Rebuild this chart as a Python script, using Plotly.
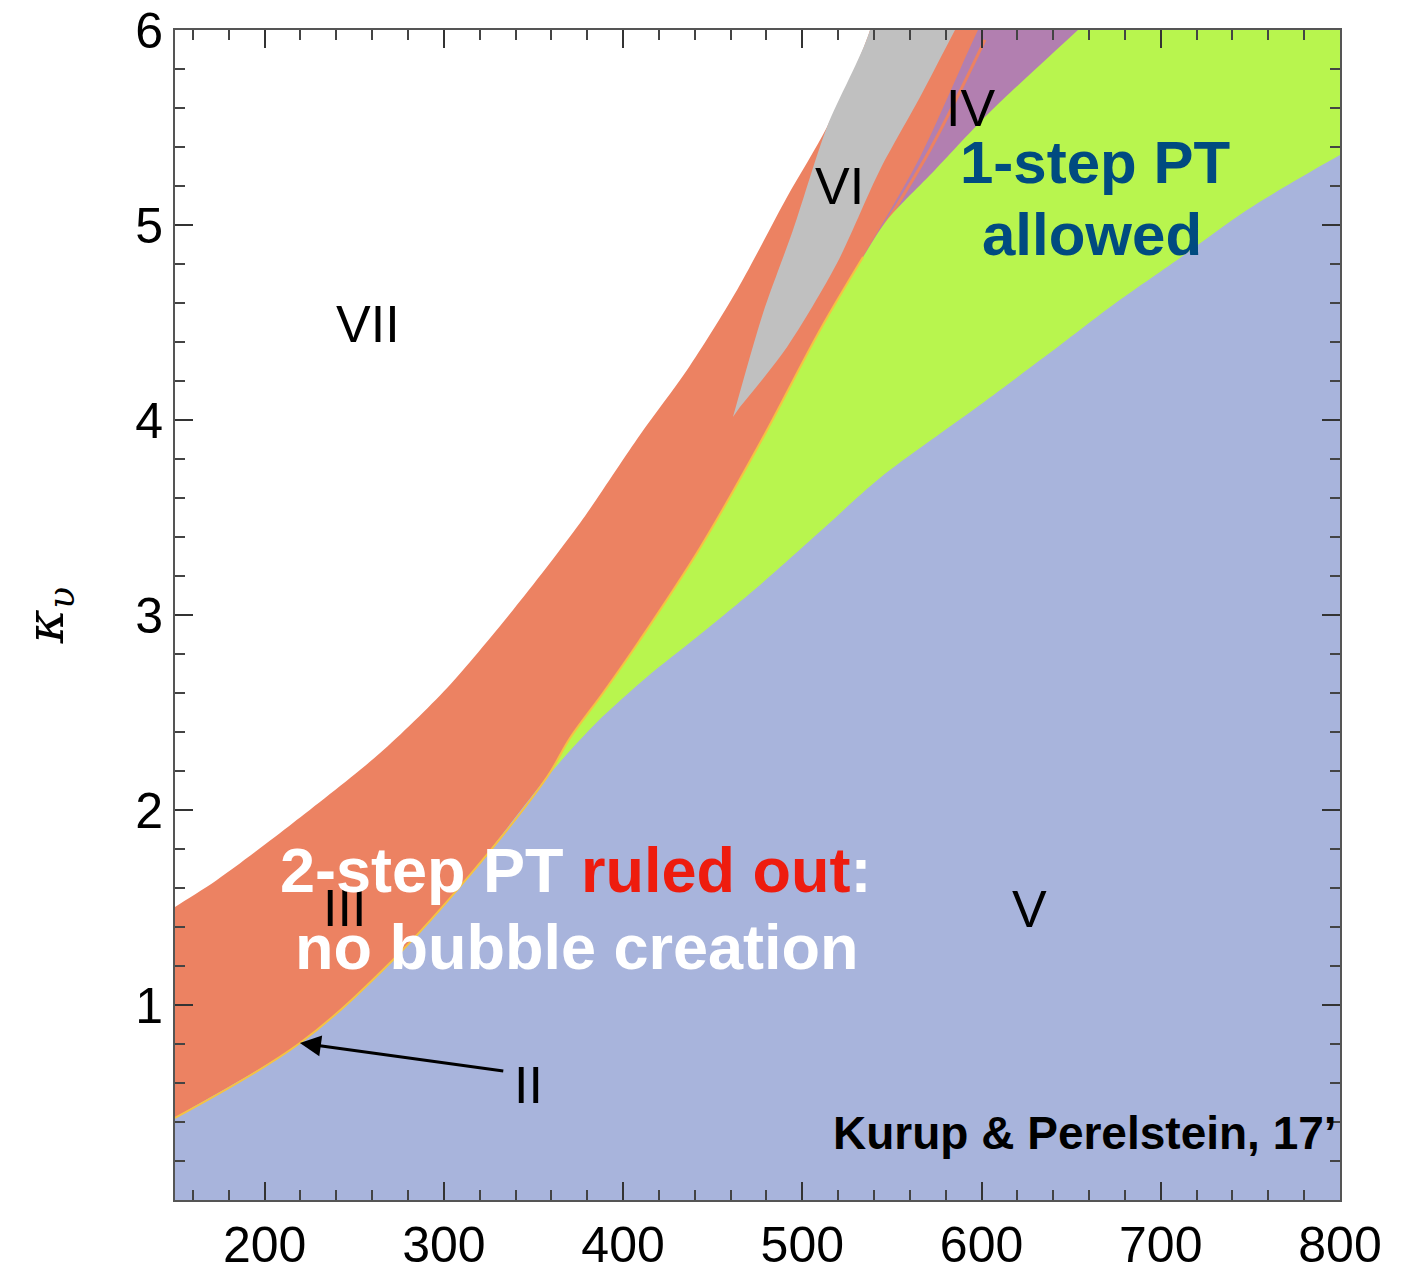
import plotly.graph_objects as go

# ---- boundary data (x = mass, y = kappa) ----
# blue region V: upper boundary (left -> right)
blue_top_x = [150, 219.7, 271.6, 314.6, 357.6, 385.5, 413.3, 441.2, 476.4, 512.1,
              543.3, 599.1, 636.5, 673.3, 710.7, 748.1, 800]
blue_top_y = [0.421, 0.805, 1.231, 1.667, 2.169, 2.451, 2.682, 2.887, 3.154, 3.446,
              3.703, 4.077, 4.333, 4.590, 4.831, 5.077, 5.359]
JUNCTION = 4  # index where the green wedge starts

# orange/green boundary (bottom -> top)
og_x = [357.6, 370.4, 388.8, 409.4, 442.9, 476.4, 509.9, 533.9]
og_y = [2.169, 2.369, 2.600, 2.872, 3.344, 3.882, 4.462, 4.836]

# orange/purple boundary (bottom -> top)
op_x = [533.9, 565.7, 593.6, 598.0]
op_y = [4.836, 5.349, 5.913, 6.0]

# purple/green boundary (bottom -> top)
pg_x = [533.9, 547.3, 574.0, 604.7, 653.8]
pg_y = [4.836, 5.026, 5.282, 5.579, 6.0]

# thin orange sliver inside region IV
sliver_x = [538.9, 571.2, 601.9]
sliver_y = [4.897, 5.385, 5.949]

# white/orange(+grey) boundary (left -> right)
wo_x = [150, 173.4, 215.8, 264.4, 301.8, 338.6, 376.0, 409.4, 435.7, 463.6, 491.5, 513.8, 537.8]
wo_y = [1.503, 1.641, 1.933, 2.292, 2.626, 3.026, 3.472, 3.923, 4.256, 4.667, 5.144, 5.503, 6.0]

# grey region VI: left edge and right edge (bottom -> top)
gl_x = [461.3, 478.1, 494.8, 513.8, 537.8]
gl_y = [4.015, 4.549, 4.974, 5.503, 6.0]
gr_x = [465.2, 491.5, 519.4, 543.3, 565.7, 585.2]
gr_y = [4.067, 4.374, 4.805, 5.282, 5.656, 6.0]

x_ticks = [200, 300, 400, 500, 600, 700, 800]
y_ticks = [1, 2, 3, 4, 5, 6]

XMIN, XMAX, YMIN, YMAX = 150, 800, 0, 6
# closing points placed outside the visible frame
OX_L, OX_R, OY_B, OY_T = 130, 830, -1, 6.6

C_BLUE = "#a8b4dc"
C_GREEN = "#b8f54e"
C_ORANGE = "#ec8262"
C_GREY = "#c0c0c0"
C_PURPLE = "#b27fb0"

fig = go.Figure()

def poly(xs, ys, color):
    fig.add_trace(go.Scatter(x=xs, y=ys, fill="toself", fillcolor=color, mode="lines",
                             line=dict(width=0, color=color, shape="spline", smoothing=0.8),
                             hoverinfo="skip", showlegend=False))

# orange III: everything below the white boundary (other regions painted on top)
poly([OX_L] + wo_x + [550.8, OX_R, OX_R, OX_L],
     [1.385] + wo_y + [OY_T, OY_T, OY_B, OY_B], C_ORANGE)

# grey VI
poly(gl_x + [550.8, 619.2] + gr_x[::-1], gl_y + [OY_T, OY_T] + gr_y[::-1], C_GREY)

# purple IV: right of orange/purple line
poly(og_x + op_x[1:] + [628.0, OX_R, OX_R, og_x[0]],
     og_y + op_y[1:] + [OY_T, OY_T, OY_B, OY_B], C_PURPLE)

# thin orange sliver in IV
fig.add_trace(go.Scatter(x=sliver_x, y=sliver_y, mode="lines",
                         line=dict(color=C_ORANGE, width=3, shape="spline"),
                         hoverinfo="skip", showlegend=False))

# green (1-step): right of orange/green + purple/green lines
poly(og_x + pg_x[1:] + [725.0, OX_R, OX_R, og_x[0]],
     og_y + pg_y[1:] + [OY_T, OY_T, OY_B, OY_B], C_GREEN)

# V (blue)
poly([OX_L] + blue_top_x + [OX_R, OX_R, OX_L],
     [0.30] + blue_top_y + [5.5, OY_B, OY_B], C_BLUE)

# thin region II line
j = JUNCTION
fig.add_trace(go.Scatter(x=blue_top_x[:j + 1] + og_x[1:], y=blue_top_y[:j + 1] + og_y[1:],
                         mode="lines", line=dict(color="#f5c242", width=2, shape="spline"),
                         hoverinfo="skip", showlegend=False))

lab_font = dict(family="Liberation Sans, Arial, sans-serif", size=52, color="black")
for txt, x, y in [("VII", 257.7, 4.49), ("VI", 521.0, 5.2), ("IV", 593.6, 5.6),
                  ("V", 627.0, 1.49), ("III", 244.8, 1.50), ("II", 347.0, 0.59)]:
    fig.add_annotation(x=x, y=y, text=txt, showarrow=False, font=lab_font)

# arrow to region II
fig.add_annotation(x=219.7, y=0.805, ax=334.0, ay=0.66, axref="x", ayref="y",
                   text="", showarrow=True, arrowhead=2, arrowsize=1.4,
                   arrowwidth=3, arrowcolor="black")

bold = "Liberation Sans, Arial, sans-serif"
fig.add_annotation(x=663.3, y=5.32, text="<b>1-step PT</b>", showarrow=False,
                   font=dict(family=bold, size=60, color="#004b80"))
fig.add_annotation(x=661.6, y=4.95, text="<b>allowed</b>", showarrow=False,
                   font=dict(family=bold, size=60, color="#004b80"))
fig.add_annotation(x=373.7, y=1.69,
                   text="<b>2-step PT <span style='color:#ee1c0e'>ruled out</span>:</b>",
                   showarrow=False, font=dict(family=bold, size=63, color="white"))
fig.add_annotation(x=374.3, y=1.30, text="<b>no bubble creation</b>",
                   showarrow=False, font=dict(family=bold, size=63, color="white"))
fig.add_annotation(x=799.5, y=0.346, xanchor="right", text="<b>Kurup &amp; Perelstein, 17’</b>",
                   showarrow=False, font=dict(family=bold, size=46, color="black"))

axis_common = dict(showgrid=False, zeroline=False, showline=True, linecolor="#555555",
                   linewidth=2, mirror="allticks", ticks="inside", ticklen=18,
                   tickwidth=2, tickcolor="#333333", automargin=False,
                   tickfont=dict(family="Liberation Sans, Arial, sans-serif", size=50, color="black"))

fig.update_xaxes(range=[XMIN, XMAX], tickvals=x_ticks, ticktext=[str(v) for v in x_ticks],
                 minor=dict(ticks="inside", ticklen=10, dtick=20, tick0=0, tickcolor="#444444", tickwidth=2),
                 **axis_common)
fig.update_yaxes(range=[YMIN, YMAX], tickvals=y_ticks, ticktext=[str(v) for v in y_ticks],
                 minor=dict(ticks="inside", ticklen=10, dtick=0.2, tick0=0, tickcolor="#444444", tickwidth=2),
                 title=dict(text="<i>κ</i><sub><i>υ</i></sub>",
                            font=dict(family="DejaVu Serif, serif", size=52, color="black"),
                            standoff=55),
                 **axis_common)

fig.update_layout(width=1408, height=1273, plot_bgcolor="white", paper_bgcolor="white",
                  margin=dict(l=175, r=68, t=30, b=73), showlegend=False)

fig.write_html("out.html")
